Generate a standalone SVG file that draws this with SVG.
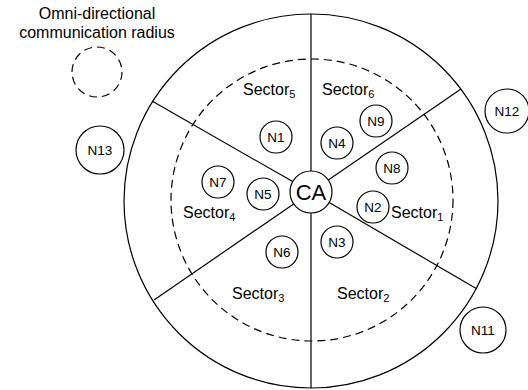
<svg xmlns="http://www.w3.org/2000/svg" width="528" height="390" viewBox="0 0 528 390">
<style>
.c{fill:#fff;stroke:#000;stroke-width:1.2}
.d{fill:none;stroke:#000;stroke-width:1.2;stroke-dasharray:8 5}
.l{stroke:#000;stroke-width:1.2;fill:none}
text{font-family:"Liberation Sans",Arial,sans-serif;fill:#000}
.n{font-size:13.5px;text-anchor:middle}
.s{font-size:16px}
.sub{font-size:11px}
</style>
<rect width="528" height="390" fill="#fff"/>
<g id="legend">
<text x="97" y="19" font-size="16" text-anchor="middle">Omni-directional</text>
<text x="97" y="38" font-size="16" text-anchor="middle">communication radius</text>
<circle cx="97" cy="72" r="25" class="d"/>
</g>
<g id="area">
<circle cx="311" cy="201" r="187" class="c"/>
<circle cx="312" cy="200" r="141" class="d"/>
</g>
<g id="connectors">
<line x1="311" y1="14" x2="311" y2="171" class="l"/>
<line x1="311" y1="213" x2="311" y2="388" class="l"/>
<line x1="152" y1="101" x2="292.7" y2="181.6" class="l"/>
<line x1="461" y1="89" x2="328.3" y2="180.1" class="l"/>
<line x1="154" y1="300" x2="293.7" y2="203.9" class="l"/>
<line x1="477" y1="289" x2="329.2" y2="202.6" class="l"/>
</g>
<g id="sectors">
<text class="s" x="243" y="95">Sector<tspan class="sub" dy="3">5</tspan></text>
<text class="s" x="322" y="95">Sector<tspan class="sub" dy="3">6</tspan></text>
<text class="s" x="183" y="218">Sector<tspan class="sub" dy="3">4</tspan></text>
<text class="s" x="391" y="218">Sector<tspan class="sub" dy="3">1</tspan></text>
<text class="s" x="232" y="299">Sector<tspan class="sub" dy="3">3</tspan></text>
<text class="s" x="337" y="299">Sector<tspan class="sub" dy="3">2</tspan></text>
</g>
<g id="CA"><circle cx="311" cy="192" r="21" class="c"/><text x="311" y="200" font-size="22" text-anchor="middle">CA</text></g>
<g id="N1"><circle cx="276" cy="137" r="16" class="c"/><text class="n" x="276" y="142">N1</text></g>
<g id="N4"><circle cx="337" cy="143" r="16" class="c"/><text class="n" x="337" y="148">N4</text></g>
<g id="N9"><circle cx="376" cy="121" r="16" class="c"/><text class="n" x="376" y="126">N9</text></g>
<g id="N8"><circle cx="392" cy="168" r="16" class="c"/><text class="n" x="392" y="173">N8</text></g>
<g id="N7"><circle cx="218" cy="182" r="16" class="c"/><text class="n" x="218" y="187">N7</text></g>
<g id="N5"><circle cx="263" cy="194" r="16" class="c"/><text class="n" x="263" y="199">N5</text></g>
<g id="N2"><circle cx="373" cy="207" r="16" class="c"/><text class="n" x="373" y="212">N2</text></g>
<g id="N3"><circle cx="337" cy="242" r="16" class="c"/><text class="n" x="337" y="247">N3</text></g>
<g id="N6"><circle cx="282" cy="252" r="16" class="c"/><text class="n" x="282" y="257">N6</text></g>
<g id="N12"><circle cx="507" cy="111" r="22" class="c"/><text class="n" x="507" y="116">N12</text></g>
<g id="N11"><circle cx="483" cy="330" r="23" class="c"/><text class="n" x="483" y="335">N11</text></g>
<g id="N13"><circle cx="100" cy="150" r="24" class="c"/><text class="n" x="100" y="155">N13</text></g>
</svg>
